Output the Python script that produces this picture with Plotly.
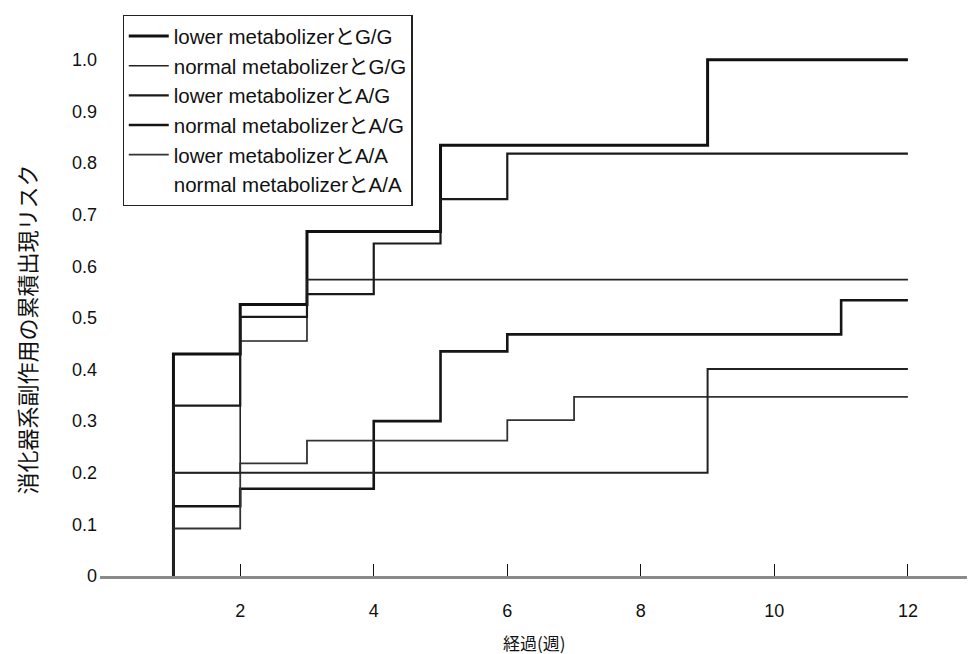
import plotly.graph_objects as go

weeks = [1, 2, 3, 4, 5, 6, 7, 8, 9, 10, 11, 12]

series_names = [
    "lower metabolizerとG/G",
    "normal metabolizerとG/G",
    "lower metabolizerとA/G",
    "normal metabolizerとA/G",
    "lower metabolizerとA/A",
    "normal metabolizerとA/A",
]

lower_GG = [0.43, 0.526, 0.667, 0.667, 0.834, 0.834, 0.834, 0.834, 1.0, 1.0, 1.0, 1.0]
normal_GG = [0.20, 0.455, 0.574, 0.574, 0.574, 0.574, 0.574, 0.574, 0.574, 0.574, 0.574, 0.574]
lower_AG = [0.33, 0.502, 0.546, 0.644, 0.730, 0.818, 0.818, 0.818, 0.818, 0.818, 0.818, 0.818]
normal_AG = [0.135, 0.169, 0.169, 0.30, 0.435, 0.468, 0.468, 0.468, 0.468, 0.468, 0.534, 0.534]
lower_AA = [0.092, 0.218, 0.262, 0.262, 0.262, 0.302, 0.347, 0.347, 0.347, 0.347, 0.347, 0.347]
normal_AA = [0.20, 0.20, 0.20, 0.20, 0.20, 0.20, 0.20, 0.20, 0.401, 0.401, 0.401, 0.401]

all_series = [lower_GG, normal_GG, lower_AG, normal_AG, lower_AA, normal_AA]

y_tickvals = [0, 0.1, 0.2, 0.3, 0.4, 0.5, 0.6, 0.7, 0.8, 0.9, 1.0]
y_ticktext = ["0", "0.1", "0.2", "0.3", "0.4", "0.5", "0.6", "0.7", "0.8", "0.9", "1.0"]
x_tickvals = [2, 4, 6, 8, 10, 12]
x_ticktext = ["2", "4", "6", "8", "10", "12"]

x_title = "経過(週)"
y_title = "消化器系副作用の累積出現リスク"

styles = [
    dict(color="#111111", width=3),
    dict(color="#222222", width=1.6),
    dict(color="#1a1a1a", width=2.2),
    dict(color="#151515", width=2.6),
    dict(color="#333333", width=1.8),
    dict(color="#222222", width=2.0),
]

FONT = "Liberation Sans, Arial, Noto Sans CJK JP, sans-serif"
CJK = "Noto Sans CJK JP"

fig = go.Figure()
for name, vals, st in zip(series_names, all_series, styles):
    fig.add_trace(go.Scatter(
        x=[weeks[0]] + weeks,
        y=[0] + vals,
        mode="lines",
        line=dict(shape="hv", **st),
        name=name,
    ))
# the last legend entry shows no line symbol in the reference
fig.data[-1].showlegend = False
fig.add_trace(go.Scatter(
    x=[None], y=[None], mode="lines",
    line=dict(color="rgba(0,0,0,0)", width=2),
    name=series_names[-1], showlegend=True,
))

# the page body has an 8px margin, so the figure is sized to the visible area
fig.update_layout(
    width=967, height=646,
    margin=dict(l=92, r=7, t=12, b=78),
    paper_bgcolor="white", plot_bgcolor="white",
    font=dict(family=FONT, size=18, color="#111111"),
    showlegend=True,
    legend=dict(
        x=0.026, y=1.0144, xanchor="left", yanchor="top",
        bgcolor="white", bordercolor="#222222", borderwidth=1.2,
        font=dict(family=FONT, size=20.5, color="#111111"),
        tracegroupgap=0, itemwidth=40,
    ),
    xaxis=dict(
        range=[-0.1, 12.9], showgrid=False, zeroline=False, automargin=False,
        showline=True, linecolor="#8a8a8a", linewidth=2.5,
        tickvals=x_tickvals, ticktext=x_ticktext,
        ticks="inside", ticklen=12, tickwidth=1.2, tickcolor="#111111",
        ticklabelstandoff=17,
        tickfont=dict(family=FONT, size=18, color="#111111"),
    ),
    yaxis=dict(
        range=[0, 1.071], showgrid=False, zeroline=False, showline=False, automargin=False,
        tickvals=y_tickvals, ticktext=y_ticktext, ticks="",
        ticklabelstandoff=2,
        tickfont=dict(family=FONT, size=18, color="#111111"),
    ),
    annotations=[
        dict(text=x_title, xref="paper", yref="paper", x=0.501, y=-0.12,
             xanchor="center", yanchor="middle", showarrow=False,
             font=dict(family=CJK, size=17, color="#111111")),
        dict(text=y_title, xref="paper", yref="paper", x=-0.085, y=0.446,
             xanchor="center", yanchor="middle", showarrow=False, textangle=-90,
             font=dict(family=CJK, size=22, color="#111111")),
    ],
    shapes=[dict(type="line", xref="paper", yref="paper", x0=1.0, x1=1.0, y0=-0.058, y1=1.02,
                 line=dict(color="#aaaaaa", width=2))],
)

fig.write_html("out.html")
